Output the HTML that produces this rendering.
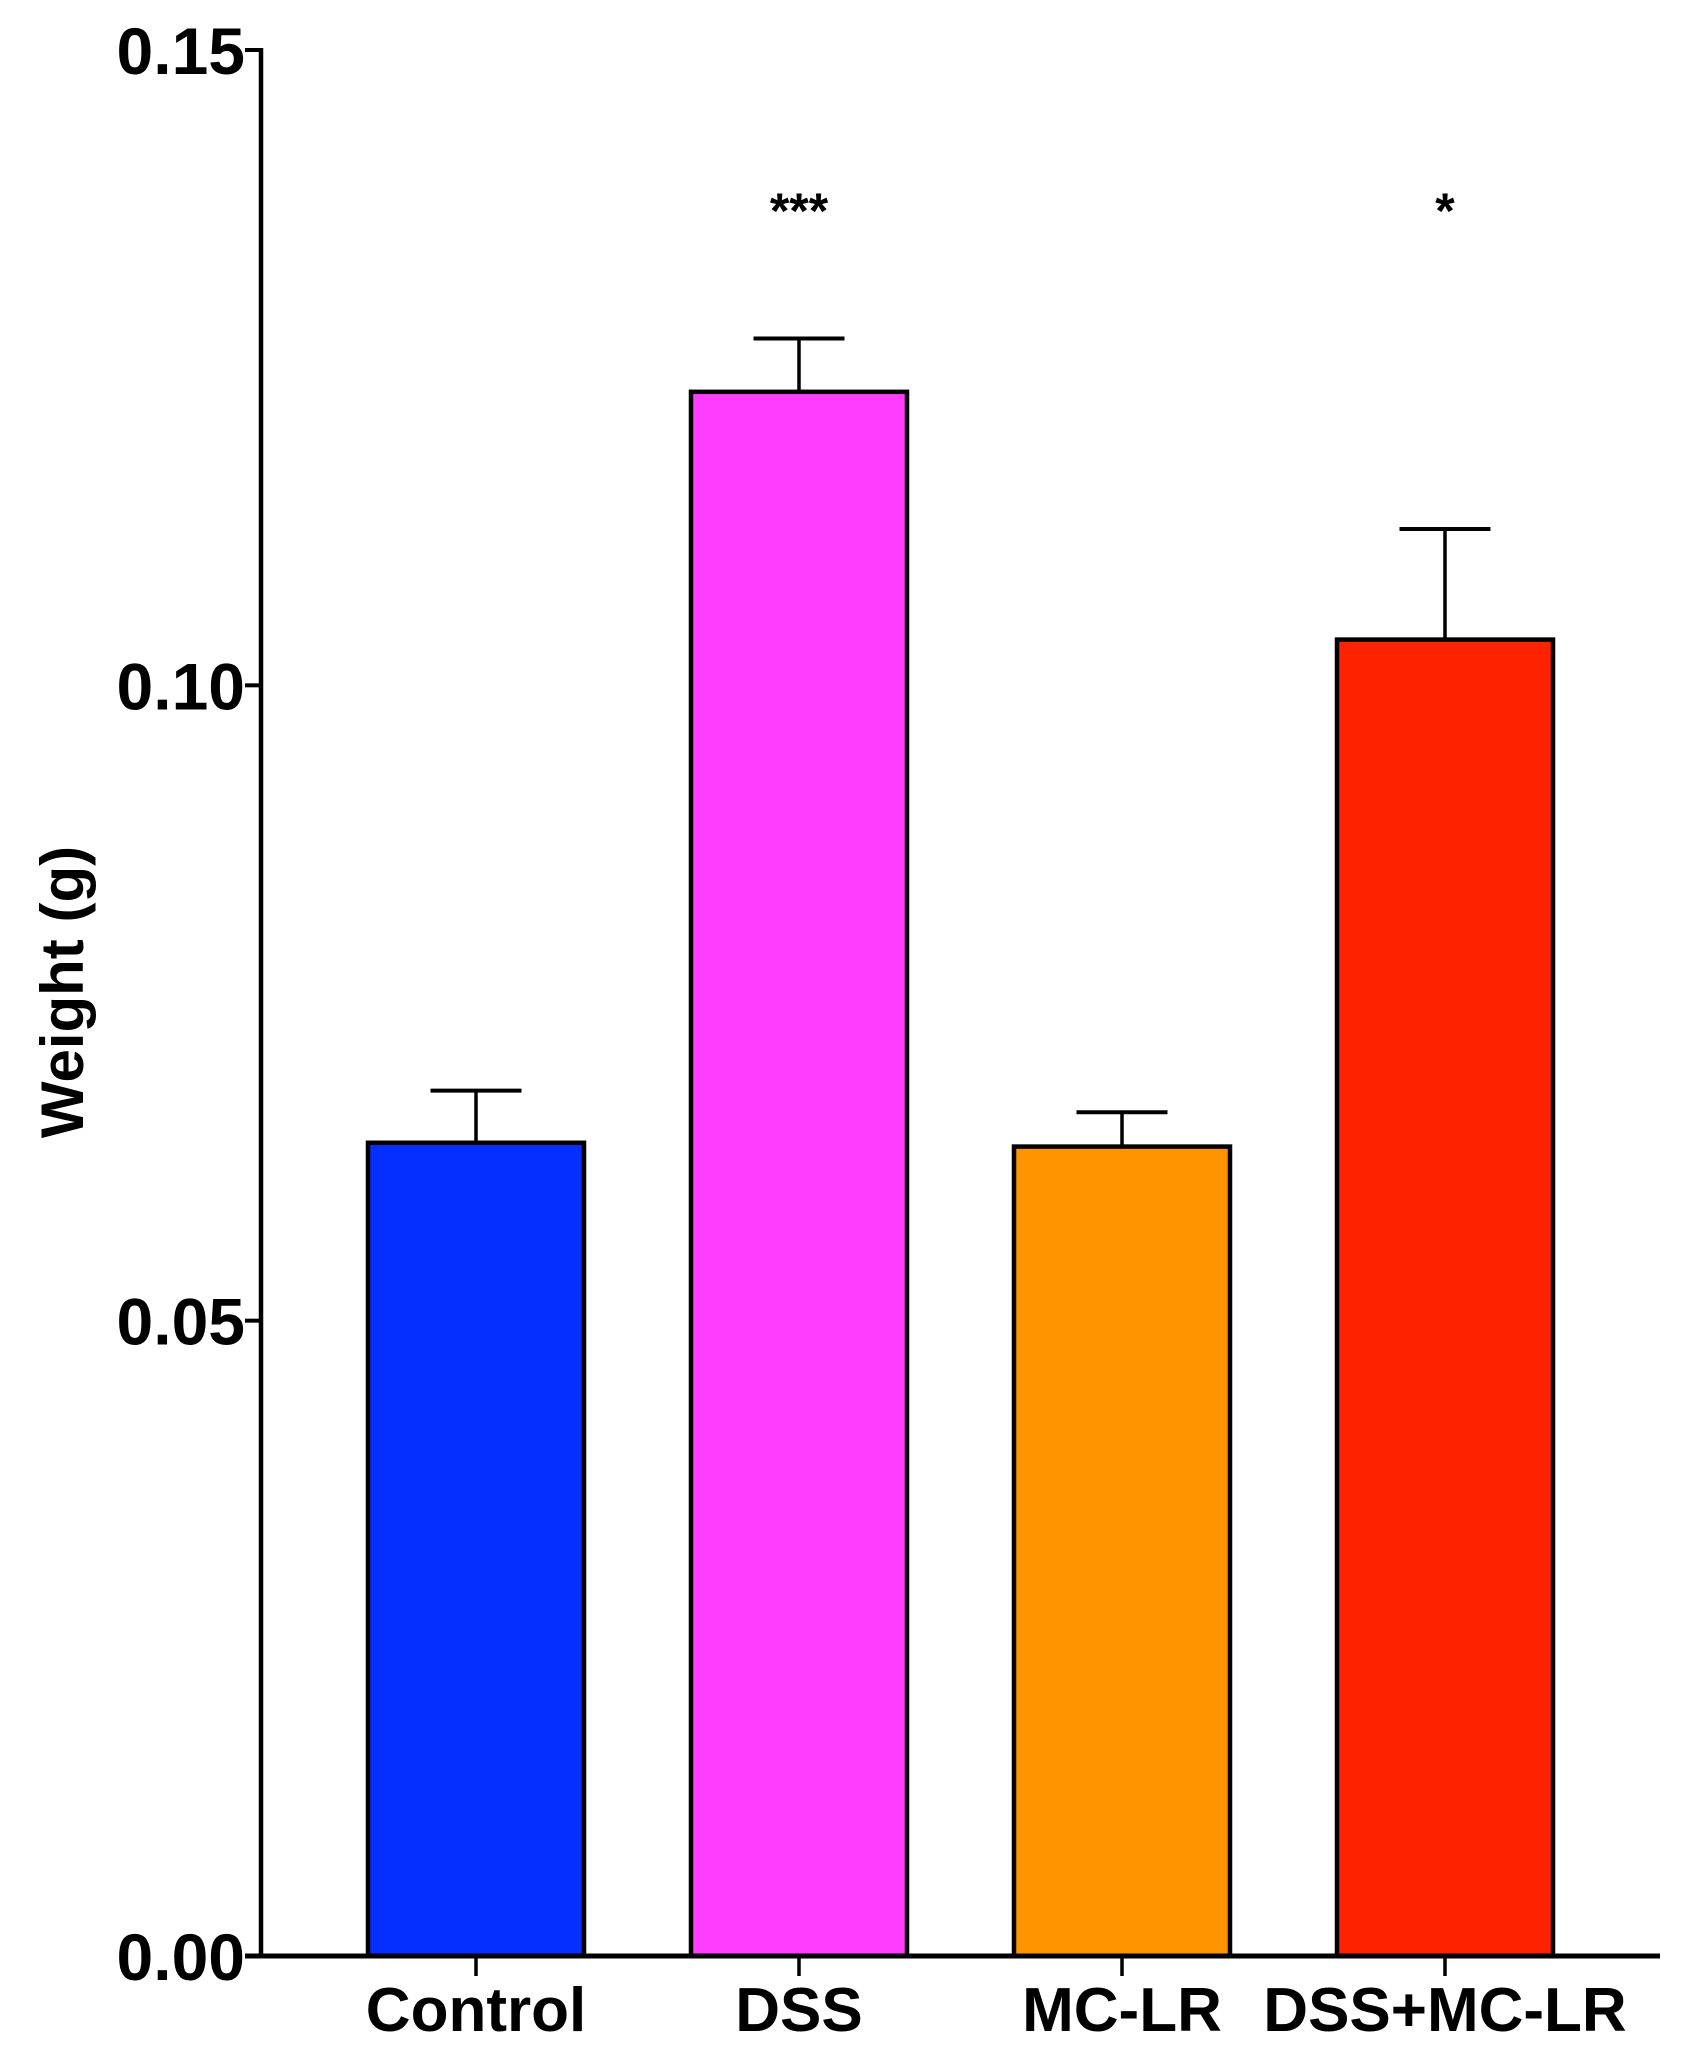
<!DOCTYPE html>
<html><head><meta charset="utf-8"><style>
html,body{margin:0;padding:0;background:#fff;}
svg{display:block;font-family:"Liberation Sans",Arial,sans-serif;font-weight:bold;}
</style></head><body>
<svg id="chart" width="1693" height="2061" viewBox="0 0 1693 2061" xmlns="http://www.w3.org/2000/svg">
<g id="plot"></g>
</svg>
<script>
const categories = ["Control", "DSS", "MC-LR", "DSS+MC-LR"];
const values = [0.0640, 0.1231, 0.0637, 0.1036];
const errors = [0.0041, 0.0042, 0.0027, 0.0087];
const colors = ["#0430ff", "#ff3dff", "#ff9400", "#ff2200"];
const stars = ["", "***", "", "*"];
const yTicks = [0, 0.05, 0.10, 0.15];
const yTickLabels = ["0.00", "0.05", "0.10", "0.15"];

const NS = "http://www.w3.org/2000/svg";
const g = document.getElementById('plot');
const axisX = 261, y0 = 1956, yTop = 50, yMax = 0.15;
const firstCenter = 476, step = 323, barW = 216, capW = 91;
function yScale(v){ return y0 - (v / yMax) * (y0 - yTop); }
function xScale(i){ return firstCenter + i * step; }
function mk(tag, attrs){ const e = document.createElementNS(NS, tag); for (const k in attrs) e.setAttribute(k, attrs[k]); g.appendChild(e); return e; }

categories.forEach((c, i) => {
  const cx = xScale(i), top = yScale(values[i]), cap = yScale(values[i] + errors[i]);
  const eb = mk('line', {x1: cx, x2: cx, y1: cap, y2: top, stroke: '#000', 'stroke-width': 3.5});
  
  
  const ec = mk('line', {x1: cx - capW / 2, x2: cx + capW / 2, y1: cap, y2: cap, stroke: '#000', 'stroke-width': 4});
  
  
  const r = mk('rect', {x: cx - barW / 2, y: top, width: barW, height: y0 - top, fill: colors[i], stroke: '#000', 'stroke-width': 4.5});
  
  
  const t = mk('line', {x1: cx, x2: cx, y1: y0, y2: y0 + 20, stroke: '#000', 'stroke-width': 3.5});
  
  
  const lb = mk('text', {x: cx, y: 2031, 'text-anchor': 'middle', 'font-size': 62});
  lb.textContent = c;
  
  
  if (stars[i]) {
    const s = mk('text', {x: cx, y: 228, 'text-anchor': 'middle', 'font-size': 50});
    s.textContent = stars[i];
    
    
  }
});

yTicks.forEach((v, i) => {
  const y = yScale(v);
  const t = mk('line', {x1: axisX - 16, x2: axisX, y1: y, y2: y, stroke: '#000', 'stroke-width': 4});
  
  
  const lb = mk('text', {x: 245, y: y + 24, 'text-anchor': 'end', 'font-size': 66});
  lb.textContent = yTickLabels[i];
  
  
});

const ya = mk('line', {x1: axisX, x2: axisX, y1: yTop - 2, y2: y0 + 2, stroke: '#000', 'stroke-width': 4.5});


const xa = mk('line', {x1: axisX - 16, x2: 1660, y1: y0, y2: y0, stroke: '#000', 'stroke-width': 5});


const yt = mk('text', {x: 0, y: 0, 'text-anchor': 'middle', 'font-size': 60, transform: 'translate(83,992) rotate(-90)'});
yt.textContent = 'Weight (g)';


</script>
</body></html>
